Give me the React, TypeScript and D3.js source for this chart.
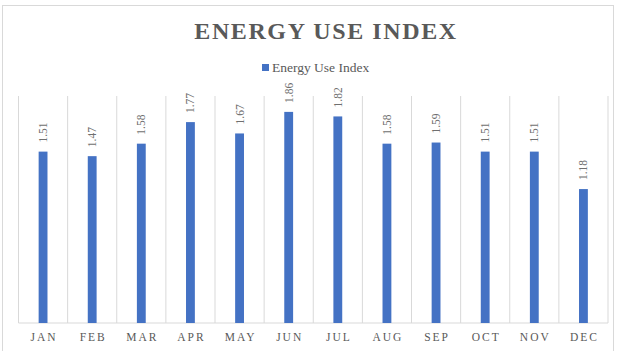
import React from 'react'
import * as d3 from 'd3'

const months = ['JAN', 'FEB', 'MAR', 'APR', 'MAY', 'JUN', 'JUL', 'AUG', 'SEP', 'OCT', 'NOV', 'DEC']
const energyUse = [1.51, 1.47, 1.58, 1.77, 1.67, 1.86, 1.82, 1.58, 1.59, 1.51, 1.51, 1.18]
const seriesName = 'Energy Use Index'
const chartTitle = 'ENERGY USE INDEX'

const W = 627, H = 351
const plot = { left: 18.5, right: 608, top: 96, bottom: 323 }
const grey = '#595959'
const blue = '#4472C4'
const gridColor = '#d9d9d9'
const serif = '"Liberation Serif", "Times New Roman", serif'

export default function App() {
    // thin bars centred in each month slot
    const x = d3.scaleBand<string>()
        .domain(months)
        .range([plot.left, plot.right])
        .paddingInner(0.82)
        .paddingOuter(0.41)

    // full-width slots, used for the vertical separators
    const band = d3.scaleBand<string>()
        .domain(months)
        .range([plot.left, plot.right])

    const y = d3.scaleLinear().domain([0, 2]).range([plot.bottom, plot.top])

    const edges = months.map(m => band(m) as number).concat(plot.right)

    return (
        <svg width={W} height={H} style={{ position: 'absolute', left: 0, top: 0 }}>
            <rect x={0} y={0} width={W} height={H} fill="#fff" />
            <rect x={2.5} y={5.5} width={611} height={360} fill="none" stroke={gridColor} />

            <text x={326} y={39} textAnchor="middle" fontFamily={serif} fontWeight="bold"
                fontSize={24} letterSpacing={1.6} fill={grey}>{chartTitle}</text>

            <rect x={262} y={64} width={7} height={7} fill={blue} />
            <text x={272} y={72} fontFamily={serif} fontSize={13.5} fill={grey}>{seriesName}</text>

            {edges.map((e, i) => (
                <line key={'g' + i} x1={e} x2={e} y1={plot.top} y2={plot.bottom} stroke={gridColor} strokeWidth={1} />
            ))}
            <line x1={plot.left} x2={plot.right} y1={plot.bottom} y2={plot.bottom} stroke={gridColor} />

            {months.map((m, i) => {
                const bx = x(m) as number
                const cx = bx + x.bandwidth() / 2
                const top = y(energyUse[i])
                return (
                    <g key={m}>
                        <rect x={bx} y={top} width={x.bandwidth()} height={plot.bottom - top} fill={blue} />
                        <text transform={`translate(${cx + 4},${top - 9}) rotate(-90)`}
                            fontFamily={serif} fontSize={11.5} fill="#6f6f6f">{energyUse[i].toFixed(2)}</text>
                        <text x={cx + 1} y={341} textAnchor="middle" fontFamily={serif}
                            fontSize={11.5} letterSpacing={2} fill={grey}>{m}</text>
                    </g>
                )
            })}
        </svg>
    )
}
